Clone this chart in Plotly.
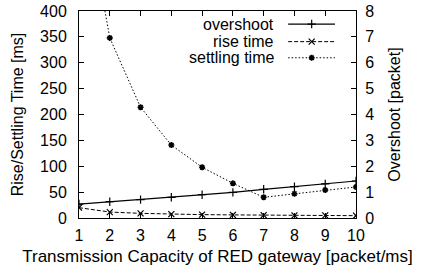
import plotly.graph_objects as go

capacity = [1, 2, 3, 4, 5, 6, 7, 8, 9, 10]
overshoot = [0.54, 0.63, 0.71, 0.80, 0.90, 0.99, 1.11, 1.21, 1.32, 1.43]
rise_time = [20, 11.5, 9, 7.5, 6.5, 6, 5.5, 5, 5, 4.5]
settling_time = [680, 348, 214, 141, 98, 67, 40, 47, 54, 60]

series_names = ["overshoot", "rise time", "settling time"]

FONT = "Liberation Sans"
FS = 16
DASH = "4px,2px"
DOT = "1.5px,2px"

fig = go.Figure()

fig.add_trace(go.Scatter(x=capacity, y=settling_time, mode="lines+markers",
                         line=dict(color="black", width=1, dash=DOT),
                         marker=dict(symbol="asterisk-open", size=5, color="black",
                                     line=dict(color="black", width=1.6)),
                         showlegend=False))
fig.add_trace(go.Scatter(x=capacity, y=rise_time, mode="lines+markers",
                         line=dict(color="black", width=1, dash=DASH),
                         marker=dict(symbol="x-thin", size=6, color="black",
                                     line=dict(color="black", width=1.2)),
                         showlegend=False))
fig.add_trace(go.Scatter(x=capacity, y=overshoot, mode="lines+markers", yaxis="y2",
                         line=dict(color="black", width=1.2),
                         marker=dict(symbol="cross-thin", size=6, color="black",
                                     line=dict(color="black", width=1.2)),
                         showlegend=False))

# custom legend (text on the left, sample on the right, gnuplot style)
styles = [
    (dict(color="black", width=1.2), "cross-thin", 6, 1.2),
    (dict(color="black", width=1, dash=DASH), "x-thin", 6, 1.2),
    (dict(color="black", width=1, dash=DOT), "asterisk-open", 5, 1.6),
]
rows = [0.937, 0.852, 0.774]
for name, (ln, sym, sz, lw), ry in zip(series_names, styles, rows):
    fig.add_trace(go.Scatter(x=[0.755, 0.924], y=[ry, ry], mode="lines", line=ln,
                             xaxis="x3", yaxis="y3", showlegend=False, hoverinfo="skip"))
    fig.add_trace(go.Scatter(x=[0.84], y=[ry], mode="markers",
                             marker=dict(symbol=sym, size=sz, color="black",
                                         line=dict(color="black", width=lw)),
                             xaxis="x3", yaxis="y3", showlegend=False, hoverinfo="skip"))
    fig.add_annotation(x=0.711, y=ry, xref="paper", yref="paper", text=name,
                       showarrow=False, xanchor="right", yanchor="middle",
                       font=dict(family=FONT, size=FS, color="black"))

axis_common = dict(showgrid=False, zeroline=False, linecolor="black", linewidth=1,
                   ticks="inside", tickcolor="black", ticklen=5, automargin=False,
                   tickfont=dict(family=FONT, size=FS, color="black"))

fig.update_layout(
    width=422, height=275,
    margin=dict(l=79, r=66, t=11, b=57),
    plot_bgcolor="white", paper_bgcolor="white",
    font=dict(family=FONT, size=FS, color="black"),
    xaxis=dict(range=[1, 10], tickvals=capacity, mirror="ticks", ticklabelstandoff=3,
               title=dict(text="Transmission Capacity of RED gateway [packet/ms]",
                          font=dict(family=FONT, size=17), standoff=6),
               **axis_common),
    yaxis=dict(range=[0, 400], tickvals=[0, 50, 100, 150, 200, 250, 300, 350, 400],
               mirror=True, ticklabelstandoff=8,
               title=dict(text="Rise/Settling Time [ms]", font=dict(family=FONT, size=FS),
                          standoff=12),
               **axis_common),
    yaxis2=dict(range=[0, 8], tickvals=[0, 1, 2, 3, 4, 5, 6, 7, 8], overlaying="y",
                side="right", ticklabelstandoff=5,
                title=dict(text="Overshoot [packet]", font=dict(family=FONT, size=FS),
                           standoff=15),
                **axis_common),
    xaxis3=dict(range=[0, 1], overlaying="x", visible=False, fixedrange=True),
    yaxis3=dict(range=[0, 1], overlaying="y", visible=False, fixedrange=True),
)

fig.write_html("out.html", config={"displayModeBar": False},
               post_script="document.body.style.margin='0';")
